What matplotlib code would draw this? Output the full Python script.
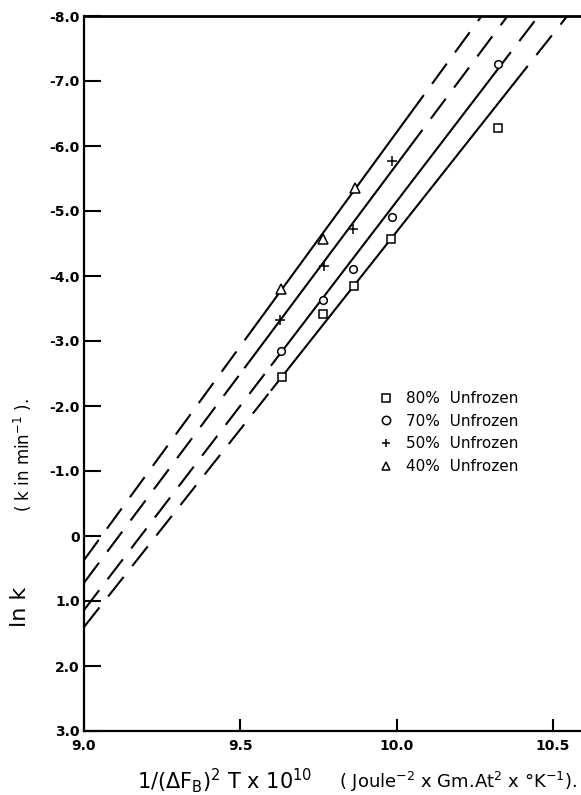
import numpy as np
import matplotlib
matplotlib.use('Agg')
import matplotlib.pyplot as plt
from matplotlib.lines import Line2D

plt.rcParams['font.family'] = ['DejaVu Sans']
plt.rcParams['mathtext.default'] = 'regular'
plt.rcParams['axes.unicode_minus'] = False
plt.rcParams['lines.scale_dashes'] = False

# series, in legend order
labels = ['80%  Unfrozen', '70%  Unfrozen', '50%  Unfrozen', '40%  Unfrozen']
markers = ['s', 'o', '+', '^']

x_80 = [9.633, 9.764, 9.863, 9.981, 10.326]
y_80 = [-2.45, -3.42, -3.85, -4.57, -6.28]
x_70 = [9.629, 9.764, 9.859, 9.984, 10.323]
y_70 = [-2.85, -3.63, -4.11, -4.91, -7.26]
x_50 = [9.626, 9.767, 9.859, 9.984]
y_50 = [-3.32, -4.15, -4.72, -5.77]
x_40 = [9.629, 9.764, 9.866]
y_40 = [-3.80, -4.57, -5.35]

# fitted lines: ln k at x = 9.0 and the x where each line reaches -8.0
fit_y_at_9 = [1.40, 1.14, 0.72, 0.37]
fit_x_at_top = [10.546, 10.454, 10.355, 10.272]
# part of each line drawn solid, the rest is dashed extrapolation
solid_from = [9.60, 9.60, 9.515, 9.54]
solid_to = [10.37, 10.317, 10.035, 10.04]

x_ticks = [9.0, 9.5, 10.0, 10.5]
x_ticklabels = ['9.0', '9.5', '10.0', '10.5']
y_ticks = [-8, -7, -6, -5, -4, -3, -2, -1, 0, 1, 2, 3]
y_ticklabels = ['-8.0', '-7.0', '-6.0', '-5.0', '-4.0', '-3.0', '-2.0', '-1.0',
                '0', '1.0', '2.0', '3.0']

fig = plt.figure(figsize=(5.81, 7.95), dpi=100)
ax = fig.add_axes([84 / 581, 64 / 795, 497 / 581, 715 / 795])

xs = [x_80, x_70, x_50, x_40]
ys = [y_80, y_70, y_50, y_40]
dash = (18, 10)

for i in range(4):
    y9 = fit_y_at_9[i]
    xt = fit_x_at_top[i]
    slope = (-8.0 - y9) / (xt - 9.0)

    def line(x):
        return y9 + slope * (np.asarray(x) - 9.0)

    seg = [9.0, solid_from[i]]
    ax.plot(seg, line(seg), color='black', lw=1.5, dashes=dash, dash_capstyle='butt')
    seg = [solid_to[i], xt]
    ax.plot(seg, line(seg), color='black', lw=1.5, dashes=dash, dash_capstyle='butt')
    seg = [solid_from[i], solid_to[i]]
    ax.plot(seg, line(seg), color='black', lw=1.5)

    ms = 7 if markers[i] in ('+', '^') else 5.5
    ax.plot(xs[i], ys[i], ls='none', marker=markers[i], ms=ms, mfc='white',
            mec='black', mew=1.1, zorder=5)

ax.set_xlim(9.0, 10.59)
ax.set_ylim(3.0, -8.0)
ax.set_xticks(x_ticks)
ax.set_xticklabels(x_ticklabels)
ax.set_yticks(y_ticks)
ax.set_yticklabels(y_ticklabels)

ax.spines['right'].set_visible(False)
for s in ['left', 'bottom']:
    ax.spines[s].set_linewidth(1.6)
ax.spines['top'].set_linewidth(2.0)
ax.tick_params(axis='y', direction='in', length=12, width=1.5, pad=3, labelsize=10)
ax.tick_params(axis='x', direction='in', length=9, width=1.5, pad=6, labelsize=10)
for lab in ax.get_xticklabels() + ax.get_yticklabels():
    lab.set_fontweight('bold')

handles = [Line2D([], [], ls='none', marker=m, ms=6, mfc='white', mec='black', mew=1.1)
           for m in markers]
ax.legend(handles, labels, loc='upper left', bbox_to_anchor=(0.592, 0.4755),
          frameon=False, fontsize=11, handlelength=1.0, handletextpad=0.8,
          labelspacing=0.5, borderaxespad=0, borderpad=0)

fig.text(20 / 581, 1 - 607 / 795, 'ln k', rotation=90, fontsize=16,
         ha='center', va='center')
fig.text(23 / 581, 1 - 455 / 795, '( k in min$^{-1}$ ).', rotation=90, fontsize=12,
         ha='center', va='center')
fig.text(225 / 581, 6 / 795, '1/(ΔF$_B$)$^2$ T x 10$^{10}$', fontsize=15,
         ha='center', va='baseline')
fig.text(458 / 581, 7 / 795, '( Joule$^{-2}$ x Gm.At$^2$ x °K$^{-1}$).', fontsize=13,
         ha='center', va='baseline')

fig.savefig('out.png', dpi=100, facecolor='white')
